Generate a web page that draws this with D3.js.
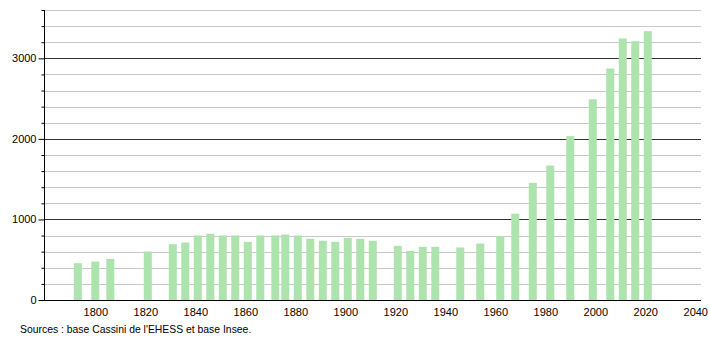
<!DOCTYPE html>
<html>
<head>
<meta charset="utf-8">
<script src="https://cdn.jsdelivr.net/npm/d3@7"></script>
<style>
  body { margin: 0; background: #fff; }
  text { font-family: "Liberation Sans", Arial, sans-serif; }
</style>
</head>
<body>
<div id="graph"></div>
<script>
// Données : années de recensement et population
let annees = [1793, 1800, 1806, 1821, 1831, 1836, 1841, 1846, 1851, 1856, 1861, 1866, 1872, 1876,
              1881, 1886, 1891, 1896, 1901, 1906, 1911, 1921, 1926, 1931, 1936, 1946, 1954, 1962,
              1968, 1975, 1982, 1990, 1999, 2006, 2011, 2016, 2021];
let population = [457, 477, 510, 602, 693, 714, 801, 822, 801, 801, 722, 801, 801, 813,
                  801, 760, 735, 722, 772, 760, 735, 672, 610, 660, 660, 652, 701, 795,
                  1071, 1453, 1669, 2034, 2491, 2873, 3246, 3213, 3337];
let ticksX = [1800, 1820, 1840, 1860, 1880, 1900, 1920, 1940, 1960, 1980, 2000, 2020, 2040];
let ticksMajeurs = [0, 1000, 2000, 3000];
let ticksMineurs = d3.range(0, 3601, 200);
let source = "Sources : base Cassini de l'EHESS et base Insee.";

let width = 710, height = 340;
let svg = d3.select("#graph").append("svg")
    .attr("width", width)
    .attr("height", height);

// échelles
let x = d3.scaleLinear().domain([1780, 2042.5]).range([45.3, 701.5]);
let y = d3.scaleLinear().domain([0, 3600]).range([300, 10]);

// grille secondaire (tous les 200)
svg.append("g").selectAll("line")
    .data(ticksMineurs.filter(d => d % 1000 != 0))
    .enter().append("line")
    .attr("x1", 45).attr("x2", 701)
    .attr("y1", d => Math.round(y(d)) + 0.5)
    .attr("y2", d => Math.round(y(d)) + 0.5)
    .attr("stroke", "#c8c8c8")
    .attr("stroke-width", 1);

// grille principale (tous les 1000)
svg.append("g").selectAll("line")
    .data(ticksMajeurs.filter(d => d > 0))
    .enter().append("line")
    .attr("x1", 45).attr("x2", 701)
    .attr("y1", d => Math.round(y(d)) + 0.5)
    .attr("y2", d => Math.round(y(d)) + 0.5)
    .attr("stroke", "#333")
    .attr("stroke-width", 1);

// barres
svg.append("g").selectAll("rect")
    .data(annees)
    .enter().append("rect")
    .attr("x", d => x(d) - 4)
    .attr("width", 8)
    .attr("y", (d, i) => y(population[i]))
    .attr("height", (d, i) => y(0) - y(population[i]))
    .attr("fill", "#ade3ad");

// axe Y
let axeY = d3.axisLeft(y)
    .tickValues(ticksMineurs)
    .tickSize(3)
    .tickFormat(d => d % 1000 == 0 ? d : "");
let gY = svg.append("g")
    .attr("transform", "translate(44.5,0)")
    .call(axeY);
gY.select(".domain").attr("d", "M0," + y(3600) + "V" + y(0)).attr("stroke", "#000");
gY.selectAll(".tick line").attr("x2", d => d % 1000 == 0 ? -6 : -3).attr("stroke", "#000");
gY.selectAll("text")
    .attr("x", -8)
    .style("font-size", "11px")
    .attr("fill", "#000");

// axe X
let axeX = d3.axisBottom(x)
    .tickValues(ticksX)
    .tickSize(0)
    .tickFormat(d3.format("d"));
let gX = svg.append("g")
    .attr("transform", "translate(0,300.5)")
    .call(axeX);
gX.select(".domain").attr("d", "M44,0H701").attr("stroke", "#000");
gX.selectAll("text")
    .attr("y", 8)
    .style("font-size", "11px")
    .attr("fill", "#000");

// source
svg.append("text")
    .attr("x", 20)
    .attr("y", 333)
    .style("font-size", "10.4px")
    .attr("fill", "#000")
    .text(source);
</script>
</body>
</html>
